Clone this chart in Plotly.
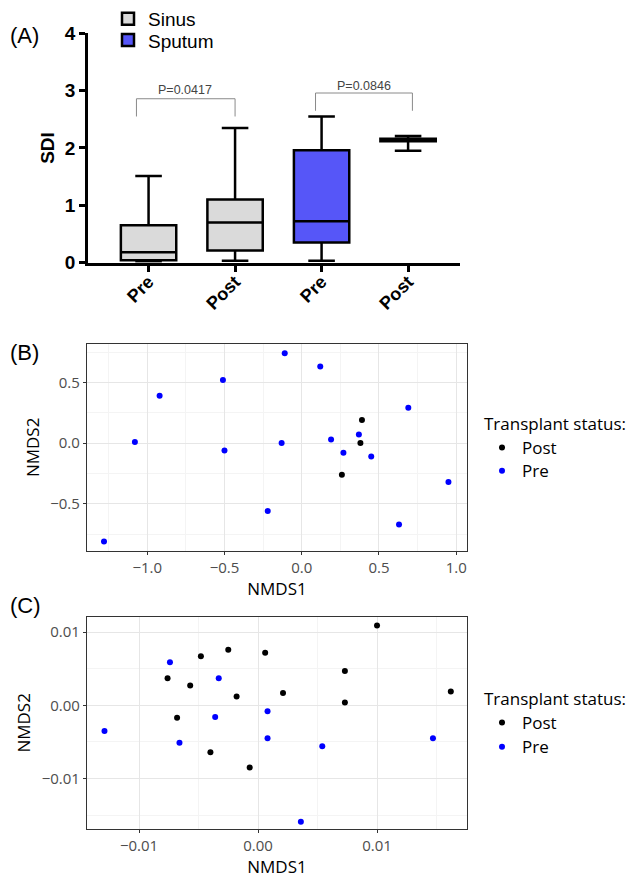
import plotly.graph_objects as go

# ---------------- Panel A data (box summary stats) ----------------
box_pos_sinus = [0, 1]
box_pos_sputum = [2, 3]
box_ticktext = ["Pre", "Post", "Pre", "Post"]
sinus_lower = [0.02, 0.03]
sinus_q1 = [0.04, 0.21]
sinus_median = [0.18, 0.70]
sinus_q3 = [0.65, 1.10]
sinus_upper = [1.51, 2.35]
sputum_lower = [0.03, 1.95]
sputum_q1 = [0.35, 2.12]
sputum_median = [0.72, 2.14]
sputum_q3 = [1.96, 2.16]
sputum_upper = [2.55, 2.21]
p_labels = ["P=0.0417", "P=0.0846"]

# ---------------- Panel B data ----------------
b_post_x = [0.39, 0.38, 0.26]
b_post_y = [0.19, 0.00, -0.26]
b_pre_x = [-1.28, -1.08, -0.92, -0.51, -0.50, -0.11, -0.13, -0.22, 0.12,
           0.69, 0.19, 0.37, 0.27, 0.45, 0.95, 0.63]
b_pre_y = [-0.81, 0.01, 0.39, 0.52, -0.06, 0.74, 0.00, -0.56, 0.63,
           0.29, 0.03, 0.07, -0.08, -0.11, -0.32, -0.67]

# ---------------- Panel C data ----------------
c_post_x = [-0.0076, -0.0048, -0.0025, 0.0006, -0.0057, -0.0018, 0.0021,
            -0.0068, -0.0040, -0.0007, 0.0100, 0.0073, 0.0073, 0.0162]
c_post_y = [0.0037, 0.0067, 0.0076, 0.0072, 0.0027, 0.0012, 0.0017,
            -0.0017, -0.0064, -0.0085, 0.0109, 0.0047, 0.0004, 0.0019]
c_pre_x = [-0.0129, -0.0074, -0.0033, -0.0036, 0.0008, -0.0066, 0.0008,
           0.0054, 0.0036, 0.0147]
c_pre_y = [-0.0035, 0.0059, 0.0037, -0.0016, -0.0008, -0.0051, -0.0045,
           -0.0056, -0.0159, -0.0045]

W, H = 640, 883
def px_x(p):
    return p / W
def px_y(p):
    return 1 - p / H

SINUS_FILL = "#DADADA"
SPUTUM_FILL = "#5656F8"
BLUE = "#0000FF"

fig = go.Figure()

fig.add_trace(go.Box(
    name="Sinus", x=box_pos_sinus, q1=sinus_q1, median=sinus_median, q3=sinus_q3,
    lowerfence=sinus_lower, upperfence=sinus_upper,
    fillcolor=SINUS_FILL, line=dict(color="black", width=2.5),
    width=0.64, whiskerwidth=0.48, boxpoints=False, showlegend=True,
    xaxis="x", yaxis="y", legend="legend", hoverinfo="skip"))
fig.add_trace(go.Box(
    name="Sputum", x=box_pos_sputum, q1=sputum_q1, median=sputum_median, q3=sputum_q3,
    lowerfence=sputum_lower, upperfence=sputum_upper,
    fillcolor=SPUTUM_FILL, line=dict(color="black", width=2.5),
    width=0.64, whiskerwidth=0.48, boxpoints=False, showlegend=True,
    xaxis="x", yaxis="y", legend="legend4", hoverinfo="skip"))

fig.add_trace(go.Scatter(x=b_post_x, y=b_post_y, mode="markers", name="Post",
                         marker=dict(color="black", size=6), showlegend=True,
                         xaxis="x2", yaxis="y2", legend="legend2"))
fig.add_trace(go.Scatter(x=b_pre_x, y=b_pre_y, mode="markers", name="Pre",
                         marker=dict(color=BLUE, size=6), showlegend=True,
                         xaxis="x2", yaxis="y2", legend="legend5"))
fig.add_trace(go.Scatter(x=c_post_x, y=c_post_y, mode="markers", name="Post",
                         marker=dict(color="black", size=6), showlegend=True,
                         xaxis="x3", yaxis="y3", legend="legend3"))
fig.add_trace(go.Scatter(x=c_pre_x, y=c_pre_y, mode="markers", name="Pre",
                         marker=dict(color=BLUE, size=6), showlegend=True,
                         xaxis="x3", yaxis="y3", legend="legend6"))

# significance brackets (panel A)
brackets = [(-0.14, 1.0, 2.86, 2.55, 2.55, 0.42, 3.01, p_labels[0]),
            (1.93, 3.05, 2.96, 2.65, 2.65, 2.49, 3.09, p_labels[1])]
for x0, x1, top, l0, l1, tx, ty, lab in brackets:
    fig.add_shape(type="path", xref="x", yref="y",
                  path=f"M {x0},{l0} L {x0},{top} L {x1},{top} L {x1},{l1}",
                  line=dict(color="#8a8a8a", width=1))
    fig.add_annotation(x=tx, y=ty, xref="x", yref="y", text=lab, showarrow=False,
                       font=dict(family="Liberation Sans", size=12.5, color="#444"))

arial = "Liberation Sans"
gg = "Open Sans"

scatter_axis_common = dict(showline=True, linecolor="#333333", linewidth=1.2, mirror=True,
                           showgrid=True, gridcolor="#e6e6e6", gridwidth=1,
                           zeroline=False, ticks="outside", ticklen=3, tickcolor="#333333",
                           tickfont=dict(family=gg, size=15, color="#4d4d4d"))

legend_box_common = dict(xanchor="left", yanchor="middle",
                         font=dict(family=arial, size=19, color="black"),
                         bgcolor="rgba(0,0,0,0)", tracegroupgap=0, itemwidth=30)
legend_pts_common = dict(xanchor="left",
                         font=dict(family=gg, size=17, color="black"),
                         bgcolor="rgba(0,0,0,0)", tracegroupgap=0, itemwidth=30)
legend_title = dict(text="Transplant status:", font=dict(family=gg, size=17, color="black"))

fig.update_layout(
    width=W, height=H, margin=dict(l=0, r=0, t=0, b=0), showlegend=True,
    paper_bgcolor="white", plot_bgcolor="white", boxmode="overlay",
    xaxis=dict(domain=[px_x(88), px_x(460)], range=[-0.7, 3.6], anchor="y",
               tickvals=[0, 1, 2, 3], ticktext=box_ticktext, tickangle=-45,
               showline=True, linecolor="black", linewidth=2.5,
               ticks="outside", ticklen=7, tickwidth=2.5, tickcolor="black",
               showgrid=False, zeroline=False, ticklabelstandoff=-8,
               tickfont=dict(family=arial, size=18, color="black", weight="bold")),
    yaxis=dict(domain=[px_y(258), px_y(23)], range=[0, 4], anchor="x",
               tickvals=[0, 1, 2, 3, 4],
               showline=True, linecolor="black", linewidth=2.5,
               ticks="outside", ticklen=6, tickwidth=2.5, tickcolor="black",
               showgrid=False, zeroline=False,
               tickfont=dict(family=arial, size=19, color="black", weight="bold"),
               title=dict(text="SDI", standoff=6,
                          font=dict(family=arial, size=19, color="black", weight="bold"))),
    xaxis2=dict(domain=[px_x(87), px_x(467)], range=[-1.39, 1.07], anchor="y2",
                tickvals=[-1.0, -0.5, 0.0, 0.5, 1.0], tickformat=".1f",
                minor=dict(dtick=0.25, tick0=0, showgrid=True, gridcolor="#f4f4f4"),
                title=dict(text="NMDS1", standoff=0, font=dict(family=gg, size=17, color="black")),
                **scatter_axis_common),
    yaxis2=dict(domain=[px_y(554), px_y(341)], range=[-0.89, 0.82], anchor="x2",
                tickvals=[-0.5, 0.0, 0.5], tickformat=".1f",
                minor=dict(dtick=0.25, tick0=0, showgrid=True, gridcolor="#f4f4f4"),
                title=dict(text="NMDS2", standoff=6, font=dict(family=gg, size=17, color="black")),
                **scatter_axis_common),
    xaxis3=dict(domain=[px_x(87), px_x(467)], range=[-0.01437, 0.01756], anchor="y3",
                tickvals=[-0.01, 0.0, 0.01], tickformat=".2f",
                minor=dict(dtick=0.005, tick0=0, showgrid=True, gridcolor="#f4f4f4"),
                title=dict(text="NMDS1", standoff=2, font=dict(family=gg, size=17, color="black")),
                **scatter_axis_common),
    yaxis3=dict(domain=[px_y(839), px_y(621)], range=[-0.0169, 0.01213], anchor="x3",
                tickvals=[-0.01, 0.0, 0.01], tickformat=".2f",
                minor=dict(dtick=0.005, tick0=0, showgrid=True, gridcolor="#f4f4f4"),
                title=dict(text="NMDS2", standoff=6, font=dict(family=gg, size=17, color="black")),
                **scatter_axis_common),
    legend=dict(x=px_x(108), y=px_y(8), **legend_box_common),
    legend4=dict(x=px_x(108), y=px_y(30), **legend_box_common),
    legend2=dict(x=px_x(482), y=px_y(407), yanchor="top", title=legend_title, **legend_pts_common),
    legend5=dict(x=px_x(482), y=px_y(472), yanchor="middle", **legend_pts_common),
    legend3=dict(x=px_x(482), y=px_y(689), yanchor="top", title=legend_title, **legend_pts_common),
    legend6=dict(x=px_x(482), y=px_y(755), yanchor="middle", **legend_pts_common),
)

for lab, ypx in [("(A)", 25), ("(B)", 350), ("(C)", 610)]:
    fig.add_annotation(x=px_x(8), y=px_y(ypx), xref="paper", yref="paper",
                       xanchor="left", yanchor="middle", text=lab, showarrow=False,
                       font=dict(family=arial, size=22, color="black"))

fig.write_html("out.html")
